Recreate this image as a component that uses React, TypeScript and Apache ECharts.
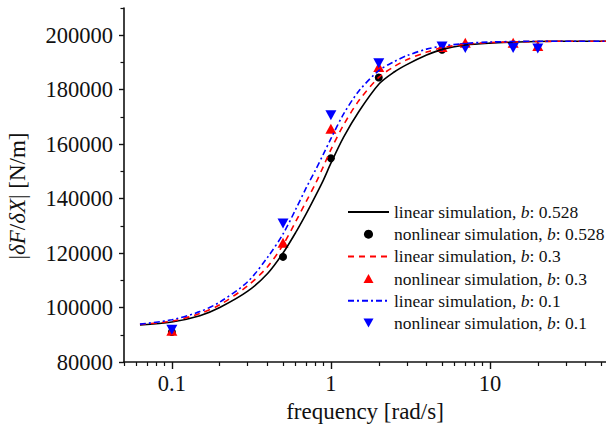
import React, { useEffect, useRef } from "react";
import * as echarts from "echarts";

// linear simulation curves (frequency in rad/s, stiffness in N/m)
const freqLinear = [0.063, 0.1, 0.15, 0.2, 0.3, 0.4, 0.5, 0.6, 0.7, 0.8, 0.9, 1, 1.2, 1.5, 2, 2.5, 3, 4, 5, 7, 10, 15, 20, 30, 54];
const linear0528 = [93600, 94700, 97000, 100000, 106000, 112500, 120000, 127500, 134500, 141000, 147000, 153000, 162500, 172000, 182000, 186500, 189200, 192700, 194800, 196400, 197100, 197500, 197700, 197800, 197800];
const linear03 = [93800, 95000, 97800, 101000, 108000, 115000, 123000, 131500, 139000, 145500, 152000, 158000, 167000, 176000, 184500, 188500, 191000, 193800, 195400, 196700, 197300, 197600, 197700, 197800, 197800];
const linear01 = [93900, 95500, 98500, 102000, 109500, 118500, 127000, 136000, 144000, 150500, 156500, 162000, 171000, 179500, 187000, 190300, 192500, 194900, 196000, 197000, 197500, 197700, 197800, 197800, 197800];

// nonlinear simulation points
const freqNonlinear0528 = [0.1, 0.5, 1, 2, 5];
const nonlinear0528 = [91000, 118600, 154800, 184500, 194700];
const freqNonlinear = [0.1, 0.5, 1, 2, 5, 7, 14, 20];
const nonlinear03 = [91500, 123800, 165700, 188300, 195700, 197200, 197200, 196000];
const nonlinear01 = [91800, 130900, 170600, 189700, 195900, 195300, 195300, 195100];

// axes
const xMin = 0.05;
const xMax = 53.7;
const xMajorTicks = [0.1, 1, 10];
const xMinorTicks = [0.05, 0.06, 0.07, 0.08, 0.09, 0.2, 0.3, 0.4, 0.5, 0.6, 0.7, 0.8, 0.9, 2, 3, 4, 5, 6, 7, 8, 9, 20, 30, 40, 50];
const yMin = 80000;
const yMax = 210000;
const yMajorTicks = [80000, 100000, 120000, 140000, 160000, 180000, 200000];
const yMinorTicks = [90000, 110000, 130000, 150000, 170000, 190000, 210000];

const seriesNames = [
  "linear simulation, b: 0.528",
  "nonlinear simulation, b: 0.528",
  "linear simulation, b: 0.3",
  "nonlinear simulation, b: 0.3",
  "linear simulation, b: 0.1",
  "nonlinear simulation, b: 0.1",
];

const FONT = "Liberation Serif";
const lg = (v: number) => Math.log10(v);
const pairs = (xs: number[], ys: number[]) => xs.map((x, i) => [lg(x), ys[i]]);

export default function App() {
  const ref = useRef<HTMLDivElement>(null);
  useEffect(() => {
    document.body.style.margin = "0";
    const chart = echarts.init(ref.current!, null, { renderer: "svg" });
    const lineW = 1.6;
    const option: any = {
      animation: false,
      backgroundColor: "#fff",
      grid: { left: 124, top: 8, right: 0, bottom: 63, containLabel: false, outerBoundsMode: "none" },
      legend: {
        orient: "vertical",
        left: 347,
        top: 202,
        padding: 0,
        itemWidth: 41,
        itemHeight: 9,
        itemGap: 2.2,
        symbolKeepAspect: true,
        data: [
          { name: seriesNames[0], itemStyle: { opacity: 0 } },
          { name: seriesNames[1], icon: "circle" },
          { name: seriesNames[2], itemStyle: { opacity: 0 } },
          { name: seriesNames[3], icon: "path://M5,0L10,9L0,9Z" },
          { name: seriesNames[4], itemStyle: { opacity: 0 } },
          { name: seriesNames[5], icon: "path://M0,0L10,0L5,9Z" },
        ],
        formatter: (name: string) => {
          const [pre, post] = name.split(", b");
          return `{n|${pre}, }{i|b}{n|${post}}`;
        },
        textStyle: {
          fontFamily: FONT,
          fontSize: 17.5,
          color: "#111",
          lineHeight: 20,
          rich: {
            n: { fontFamily: FONT, fontSize: 17.5, color: "#111", lineHeight: 20 },
            i: { fontFamily: FONT, fontSize: 17.5, color: "#111", fontStyle: "italic", lineHeight: 20 },
          },
        },
      },
      xAxis: [
        {
          type: "value",
          min: lg(xMin),
          max: lg(xMax),
          axisLine: { show: true, onZero: false, lineStyle: { color: "#111", width: 1.6 } },
          axisTick: { show: true, length: 7, lineStyle: { color: "#111", width: 1.4 }, customValues: xMajorTicks.map(lg) },
          axisLabel: {
            show: true,
            customValues: xMajorTicks.map(lg),
            formatter: (v: number) => String(Number(Math.pow(10, v).toPrecision(3))),
            fontFamily: FONT,
            fontSize: 22.5,
            color: "#111",
            margin: 10,
          },
          splitLine: { show: false },
          name: "frequency [rad/s]",
          nameLocation: "middle",
          nameGap: 37,
          nameTextStyle: { fontFamily: FONT, fontSize: 23, color: "#111" },
        },
        {
          type: "value",
          position: "bottom",
          min: lg(xMin),
          max: lg(xMax),
          axisLine: { show: false, onZero: false },
          axisTick: { show: true, length: 4, lineStyle: { color: "#111", width: 1.2 }, customValues: xMinorTicks.map(lg) },
          axisLabel: { show: false },
          splitLine: { show: false },
        },
      ],
      yAxis: [
        {
          type: "value",
          min: yMin,
          max: yMax,
          axisLine: { show: true, onZero: false, lineStyle: { color: "#111", width: 1.6 } },
          axisTick: { show: true, length: 5, lineStyle: { color: "#111", width: 1.4 }, customValues: yMajorTicks },
          axisLabel: {
            show: true,
            customValues: yMajorTicks,
            formatter: (v: number) => String(v),
            fontFamily: FONT,
            fontSize: 22.5,
            color: "#111",
            margin: 11,
          },
          splitLine: { show: false },
        },
        {
          type: "value",
          position: "left",
          min: yMin,
          max: yMax,
          axisLine: { show: false, onZero: false },
          axisTick: { show: true, length: 3.5, lineStyle: { color: "#111", width: 1.2 }, customValues: yMinorTicks },
          axisLabel: { show: false },
          splitLine: { show: false },
        },
      ],
      graphic: [
        {
          type: "text",
          x: 17,
          y: 196,
          rotation: Math.PI / 2,
          style: {
            text: "{n||}{i|δF}{n|/}{i|δX}{n|| [N/m]}",
            align: "center",
            verticalAlign: "middle",
            rich: {
              n: { fontFamily: FONT, fontSize: 23, fill: "#111" },
              i: { fontFamily: FONT, fontSize: 23, fontStyle: "italic", fill: "#111" },
            },
          },
        },
      ],
      series: [
        {
          name: seriesNames[0],
          type: "line",
          smooth: 0.3,
          symbol: "none",
          data: pairs(freqLinear, linear0528),
          lineStyle: { color: "#000", width: lineW, type: "solid" },
          itemStyle: { color: "#000" },
        },
        {
          name: seriesNames[1],
          type: "scatter",
          symbol: "circle",
          symbolSize: 8,
          data: pairs(freqNonlinear0528, nonlinear0528),
          itemStyle: { color: "#000", opacity: 1 },
        },
        {
          name: seriesNames[2],
          type: "line",
          smooth: 0.3,
          symbol: "none",
          data: pairs(freqLinear, linear03),
          lineStyle: { color: "#ff0000", width: lineW, type: [6, 5] },
          itemStyle: { color: "#ff0000" },
        },
        {
          name: seriesNames[3],
          type: "scatter",
          symbol: "triangle",
          symbolSize: [11, 10],
          data: pairs(freqNonlinear, nonlinear03),
          itemStyle: { color: "#ff0000", opacity: 1 },
        },
        {
          name: seriesNames[4],
          type: "line",
          smooth: 0.3,
          symbol: "none",
          data: pairs(freqLinear, linear01),
          lineStyle: { color: "#0000ff", width: lineW, type: [6, 3, 2, 3] },
          itemStyle: { color: "#0000ff" },
        },
        {
          name: seriesNames[5],
          type: "scatter",
          symbol: "triangle",
          symbolRotate: 180,
          symbolSize: [11, 10],
          data: pairs(freqNonlinear, nonlinear01),
          itemStyle: { color: "#0000ff", opacity: 1 },
        },
      ],
    };
    chart.setOption(option);
    return () => chart.dispose();
  }, []);
  return <div ref={ref} style={{ position: "fixed", left: 0, top: 0, width: 606, height: 425 }} />;
}
